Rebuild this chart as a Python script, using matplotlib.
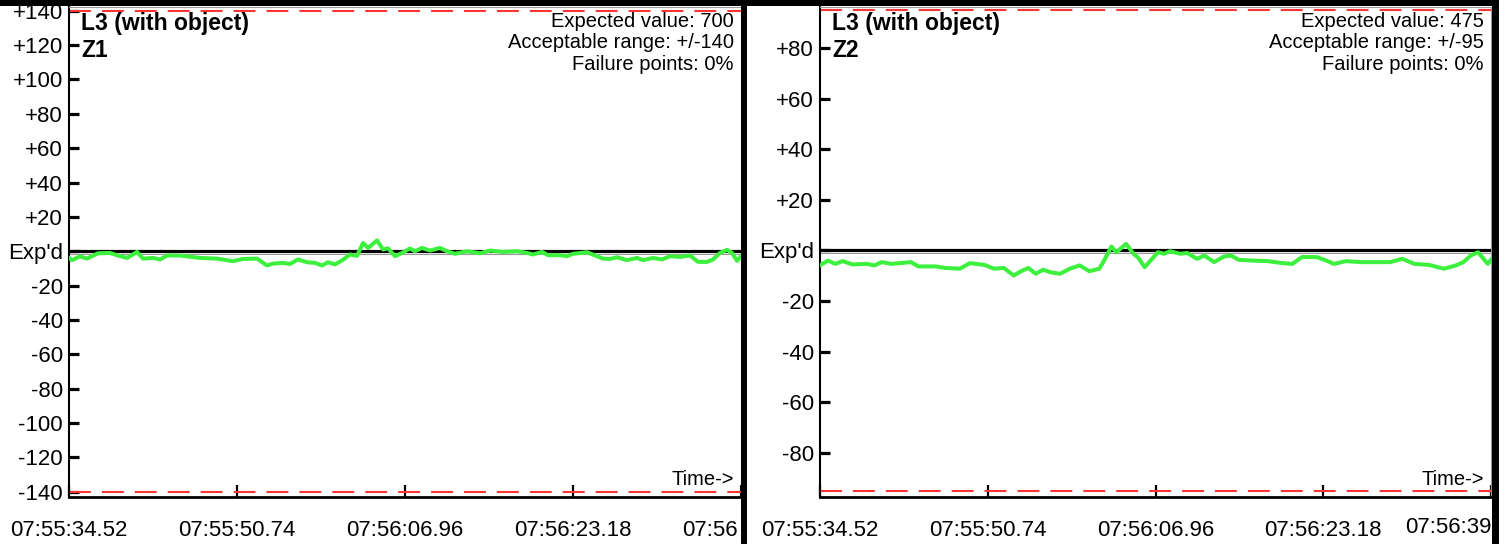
import matplotlib
matplotlib.use('Agg')
import matplotlib.pyplot as plt
from matplotlib.transforms import offset_copy
from matplotlib.patches import Rectangle

plt.rcParams['font.family'] = ['Liberation Sans', 'DejaVu Sans']

# ---------------- data ----------------
tick_seconds = [0.0, 16.22, 32.44, 48.66, 64.88]
tick_labels = ["07:55:34.52", "07:55:50.74", "07:56:06.96", "07:56:23.18", "07:56:39.40"]

z1_t = [0.00, 0.29, 1.06, 1.74, 2.80, 3.96, 4.73, 5.60, 6.57, 7.14, 8.11, 8.79, 9.46, 10.72,
        12.65, 14.29, 15.83, 16.80, 18.15, 19.12, 19.70, 20.66, 21.34, 22.11, 22.98, 23.75,
        24.43, 25.01, 25.68, 26.45, 27.13, 27.81, 28.39, 28.87, 29.74, 30.32, 30.80, 31.48,
        32.15, 32.92, 33.41, 34.08, 34.86, 35.82, 36.50, 37.27, 38.43, 39.68, 40.65, 41.90,
        43.25, 44.22, 44.80, 45.67, 46.25, 47.41, 48.08, 48.66, 50.01, 50.98, 51.56, 52.23,
        52.91, 53.87, 54.84, 55.42, 56.38, 57.25, 58.03, 59.00, 59.96, 60.73, 61.60, 62.18,
        62.85, 63.53, 64.01, 64.50, 64.88]
z1_v = [-3.9, -5.2, -3.0, -4.3, -1.2, -1.0, -2.5, -3.9, -0.4, -4.3, -3.9, -4.8, -2.5, -2.5,
        -3.9, -4.3, -5.8, -4.5, -4.3, -8.3, -7.2, -6.8, -7.4, -4.8, -6.4, -6.8,
        -8.3, -6.4, -7.7, -5.0, -1.9, -2.7, 4.8, 1.9, 6.3, 1.0, 1.7, -2.9,
        -1.0, 1.6, 0.0, 1.9, 0.4, 1.9, 0.0, -1.5, 0.0, -1.2, 0.4, -0.4,
        0.0, -1.0, -1.9, -0.4, -2.3, -2.3, -2.9, -1.5, -0.6, -2.9, -4.3, -4.5,
        -3.5, -5.2, -3.9, -5.2, -3.9, -4.8, -2.9, -3.3, -2.5, -6.2, -6.2, -4.8,
        -1.0, 0.8, -1.0, -5.6, -2.9]

z2_t = [0.00, 0.77, 1.48, 2.19, 3.13, 4.55, 5.26, 5.97, 6.91, 8.80, 9.51, 11.17, 12.11, 13.53,
        14.48, 15.89, 16.84, 17.78, 18.73, 19.44, 20.15, 20.86, 21.57, 22.27, 23.22, 24.16,
        25.11, 26.05, 27.00, 27.47, 28.18, 28.65, 29.60, 30.31, 30.78, 31.39, 31.96, 32.67,
        33.29, 33.85, 34.80, 35.51, 36.45, 37.16, 38.11, 39.05, 39.76, 40.47, 41.88, 43.30,
        44.72, 45.67, 46.61, 48.03, 48.97, 49.68, 50.86, 52.28, 53.70, 55.12, 56.30, 57.48,
        58.90, 60.32, 61.50, 62.21, 62.92, 63.62, 64.57, 64.88]
z2_v = [-5.9, -4.0, -5.3, -4.2, -5.5, -5.3, -5.9, -4.6, -5.3, -4.6, -6.3, -6.3, -6.9, -7.2,
        -5.0, -5.7, -7.2, -6.9, -9.9, -8.2, -6.9, -9.2, -7.6, -8.6, -9.2, -7.2,
        -5.9, -8.2, -7.2, -4.0, 1.6, -0.7, 2.6, -1.3, -2.9, -6.6, -4.0, -0.7,
        -1.3, -0.3, -1.3, -1.0, -3.3, -2.0, -4.6, -2.4, -2.0, -3.7, -4.0, -4.2,
        -5.0, -5.3, -2.6, -2.6, -4.0, -5.3, -4.2, -4.6, -4.6, -4.6, -3.3, -5.3,
        -5.7, -7.2, -5.9, -4.6, -2.0, -0.7, -5.3, -3.7]

z1_yticks = [140, 120, 100, 80, 60, 40, 20, 0, -20, -40, -60, -80, -100, -120, -140]
z2_yticks = [80, 60, 40, 20, 0, -20, -40, -60, -80]

panels = [
    dict(title="L3 (with object)", zone="Z1", expected=700, tol=140, fail="0%",
         t=z1_t, v=z1_v, yticks=z1_yticks, ylim=(-143.1, 142.2), left=69, right=741,
         last_label=tick_labels[-1][:5]),
    dict(title="L3 (with object)", zone="Z2", expected=475, tol=95, fail="0%",
         t=z2_t, v=z2_v, yticks=z2_yticks, ylim=(-97.4, 96.2), left=820, right=1491,
         last_label=tick_labels[-1][:8]),
]

# ---------------- layout ----------------
W, H = 1507, 544
fig = plt.figure(figsize=(W / 100, H / 100), dpi=100)
fig.patch.set_facecolor('white')


def fx(px):
    return px / W


def fy(py):
    return 1 - py / H


AX_TOP, AX_BOT = 7, 497
GREEN = '#3ef03e'
RED = '#ff3535'
FS_TICK = 16
FS_TXT = 14.5
FS_BOLD = 16.5

for i, p in enumerate(panels):
    L, R = p['left'], p['right']
    ax = fig.add_axes([fx(L), fy(AX_BOT), (R - L) / W, (AX_BOT - AX_TOP) / H])
    ax.set_xlim(tick_seconds[0], tick_seconds[-1])
    ax.set_ylim(*p['ylim'])

    # limit lines
    for s in (1, -1):
        ax.axhline(s * p['tol'], color=RED, lw=1.5, dashes=(10.5, 5.3), zorder=2)
    # expected-value line
    ax.axhline(0, color='black', lw=2.3, zorder=3)
    ax.plot([0, 1], [0, 0], color='#9a9a9a', lw=0.8, zorder=2.5,
            transform=offset_copy(ax.get_yaxis_transform(), fig=fig, y=-2.6, units='dots'))
    # measurement
    ax.plot(p['t'], p['v'], color=GREEN, lw=2.9, solid_joinstyle='round', zorder=4)

    # spines
    ax.spines['left'].set_linewidth(1.5)
    ax.spines['bottom'].set_linewidth(2.0)
    for s in ('top', 'right'):
        ax.spines[s].set_color('#9a9a9a')
        ax.spines[s].set_linewidth(0.8)

    # y ticks
    ylabels = ["Exp'd" if y == 0 else (f"+{y}" if y > 0 else f"{y}") for y in p['yticks']]
    ax.set_yticks(p['yticks'])
    ax.set_yticklabels(ylabels)
    ax.tick_params(axis='y', direction='in', length=7.5, width=2.3, pad=4.3,
                   labelsize=FS_TICK, colors='black')

    # x ticks
    ax.set_xticks(tick_seconds)
    ax.set_xticklabels(tick_labels[:-1] + [""])
    ax.tick_params(axis='x', direction='in', length=8.5, width=1.6, pad=16.5,
                   labelsize=FS_TICK)

    # last time label (cut by the frame in the original)
    if i == 0:
        fig.text(fx(R - 3), fy(AX_BOT + 23), p['last_label'], ha='right', va='top',
                 fontsize=FS_TICK)
    else:
        fig.text(fx(R), fy(AX_BOT + 20), p['last_label'], ha='right', va='top',
                 fontsize=FS_TICK)

    # annotations
    fig.text(fx(L + 12), fy(30), p['title'], fontsize=FS_BOLD, fontweight='bold', va='baseline')
    fig.text(fx(L + 12), fy(57), p['zone'], fontsize=FS_BOLD, fontweight='bold', va='baseline')
    fig.text(fx(R - 7), fy(27), f"Expected value: {p['expected']}", fontsize=FS_TXT,
             ha='right', va='baseline')
    fig.text(fx(R - 7), fy(48.5), f"Acceptable range: +/-{p['tol']}", fontsize=FS_TXT,
             ha='right', va='baseline')
    fig.text(fx(R - 7), fy(70), f"Failure points: {p['fail']}", fontsize=FS_TXT,
             ha='right', va='baseline')
    fig.text(fx(R - 7), fy(485), "Time->", fontsize=FS_TXT, ha='right', va='baseline')

# black frame pieces
fig.add_artist(Rectangle((0, fy(6)), fx(1499), 6 / H, transform=fig.transFigure,
                         facecolor='black', edgecolor='none', zorder=10))
fig.add_artist(Rectangle((fx(741), 0), 6 / W, 1, transform=fig.transFigure,
                         facecolor='black', edgecolor='none', zorder=10))
fig.add_artist(Rectangle((fx(1492), 0), 7 / W, 1, transform=fig.transFigure,
                         facecolor='black', edgecolor='none', zorder=10))

fig.savefig('out.png', dpi=100, facecolor='white')
